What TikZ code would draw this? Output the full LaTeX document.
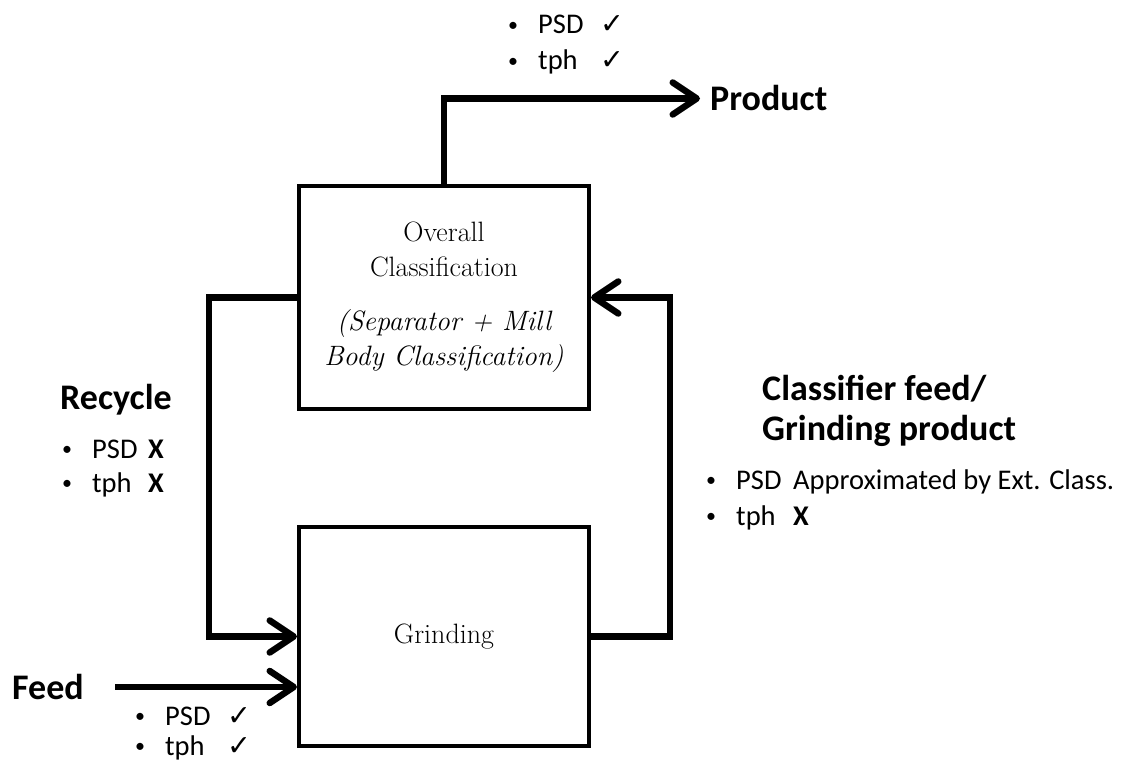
\documentclass[tikz,border=0pt]{standalone}
\usepackage{fontspec}
\usetikzlibrary{arrows.meta}
\newfontfamily\labelfont{Carlito}
\newfontfamily\symfont{DejaVu Sans}
\newcommand\chk{{\symfont ✓}}
\newcommand\crs{{\bfseries X}}
% bullet, quantity name in a fixed width, then its status
\newcommand\itemline[3]{\makebox[30pt][l]{\raisebox{2.5pt}{\fontsize{20}{20}\selectfont\textbullet}}\makebox[#1][l]{#2}#3}

\begin{document}
\begin{tikzpicture}[x=1pt,y=-1pt,
  box/.style={draw,line width=4pt,minimum width=290pt,inner sep=0pt,align=center,
    font=\fontsize{28}{35}\selectfont},
  flow/.style={line width=6.5pt,-{Straight Barb[length=24pt,width=32pt,round]}},
  lbl/.style={inner sep=0pt,anchor=base west,align=left,
    font=\labelfont\bfseries\fontsize{36}{40}\selectfont},
  itm/.style={inner sep=0pt,anchor=base west,font=\labelfont\fontsize{28.5}{34}\selectfont}]
\useasboundingbox (0,0) rectangle (1122,762);

% the two units
\node[box,minimum height=223pt] (classify) at (444,297.5)
  {Overall\\Classification\\[19pt]\itshape (Separator + Mill\\\itshape Body Classification)};
\node[box,minimum height=219pt] (grind) at (444,636.5) {Grinding};

% stream names
\node[lbl] (product) at (710,111) {Product};
\node[lbl] (recycle) at (60,409) {Recycle};
\node[lbl] (feed) at (12,699) {Feed};
\node[lbl] (clfeed) at (762,440) {Classifier feed/\\Grinding product};

% what is known on each stream
\node[itm] (prodpsd) at (508,34) {\itemline{62pt}{PSD}{\chk}};
\node[itm] (prodtph) at (508,70) {\itemline{62pt}{tph}{\chk}};
\node[itm] (recpsd) at (62,458) {\itemline{56pt}{PSD}{\crs}};
\node[itm] (rectph) at (62,492) {\itemline{56pt}{tph}{\crs}};
\node[itm] (clpsd) at (706,489) {\itemline{57pt}{PSD}{Approximated by Ext. Class.}};
\node[itm] (cltph) at (706,525) {\itemline{57pt}{tph}{\crs}};
\node[itm] (feedpsd) at (135,725) {\itemline{62pt}{PSD}{\chk}};
\node[itm] (feedtph) at (135,755) {\itemline{62pt}{tph}{\chk}};

% streams
\coordinate (rx) at (209,470);
\coordinate (cx) at (670,470);
\coordinate (feedstart) at (115,687);
\draw[flow] (classify.north) |- ([xshift=-10pt]product.west);
\draw[flow] (classify.west) -| (rx) |- (grind.west);
\draw[flow] (grind.east) -| (cx) |- (classify.east);
\draw[flow] (feedstart) -- (feedstart -| grind.west);

\end{tikzpicture}
\end{document}
